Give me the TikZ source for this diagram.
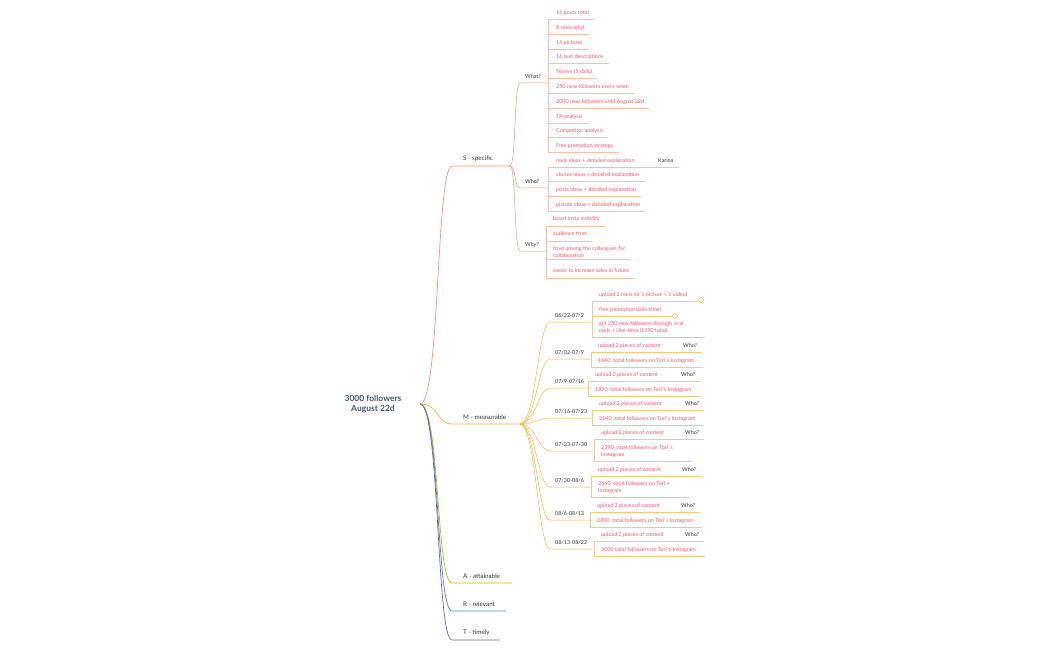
\documentclass[tikz,border=0pt]{standalone}
\usepackage{fontspec}
\setmainfont{Lato}
\begin{document}
\begin{tikzpicture}[x=1pt,y=-1pt,
  lf/.style={anchor=west,inner sep=1pt,text=txt,font=\fontsize{5.4}{6.6}\selectfont,align=left},
  dk/.style={anchor=west,inner sep=1pt,text=black!80,font=\fontsize{5.4}{6.6}\selectfont},
  sl/.style={color=sc!60,line width=0.5pt},
  ml/.style={color=mc!70,line width=0.5pt},
  num/.style={circle,draw=mc,inner sep=0.6pt,font=\fontsize{3.5}{4}\selectfont,text=mc}]
\definecolor{txt}{HTML}{F0506E}
\definecolor{sc}{HTML}{F4956A}
\definecolor{mc}{HTML}{F5B140}
\definecolor{ac}{HTML}{C8B400}
\definecolor{rc}{HTML}{3C8DC8}
\definecolor{tc}{HTML}{6E62AA}
\definecolor{rt}{HTML}{3E5670}
\useasboundingbox (0,0) rectangle (1050,650);
% root
\node[font=\bfseries\fontsize{8.5}{10}\selectfont,text=rt,align=center] (root) at (373,404) {3000 followers\\August 22d};
\coordinate (r) at (420,404);
% main branches
\foreach \n/\y/\t/\c/\e in {S/159/S - specific/sc/510, M/417/M - measurable/mc/520, A/576/A - attainable/ac/512, R/604/R - relevant/rc/506, T/633/T - timely/tc/500}{
  \node[dk,font=\fontsize{6.3}{7.5}\selectfont] (\n) at (462,\y) {\t};
  \coordinate (\n s) at (452,{\y+7});
  \coordinate (\n e) at (\e,{\y+7});
  \draw[\c,line width=0.7pt] (r) .. controls (440,404) and (436,{\y+7}) .. (\n s) -- (\n e);
}
% S subbranches
\foreach \n/\y/\t in {wh/77/What?, wo/182/Who?, wy/245/Why?}{
  \node[dk] (\n) at (524,\y) {\t};
  \coordinate (\n s) at (520,{\y+6});
  \coordinate (\n e) at (548,{\y+6});
  \draw[sl,color=sc] (Se) .. controls (516,166) and (514,{\y+6}) .. (\n s) -- (\n e);
}
% What leaves
\foreach \y/\t [count=\i] in {13/16 posts total,28/8 reels total,43/16 pictures,57/16 text descriptions,72/Stories (5 daily),87/250 new followers every week,102/2000 new followers until August 22d,117/TA analysis,131/Competitor analysis,146/Free promotion strategy}{
  \node[lf] (a\i) at (555,\y) {\t};
  \coordinate (ua\i) at (548,{\y+6});
  \draw[sl] (ua\i) -- ([xshift=4pt]ua\i -| a\i.east);
}
\draw[sl] (ua1) -- (ua10);
% Who leaves
\foreach \y/\t [count=\i] in {161/reels ideas + detailed explanation,175/stories ideas + detailed explanation,190/posts ideas + detailed explanation,205/picture ideas + detailed explanation}{
  \node[lf] (b\i) at (555,\y) {\t};
  \coordinate (ub\i) at (548,{\y+6});
  \draw[sl] (ub\i) -- ([xshift=4pt]ub\i -| b\i.east);
}
\node[dk] (kar) at (657,161) {Karina};
\draw[sl] (b1.east |- ub1) -- ([xshift=4pt]ub1 -| kar.east);
\draw[sl] (ub1) -- (ub4);
% Why leaves
\foreach \y/\t [count=\i] in {219/boost insta visibility,234/audience trust,252/trust among the colleagues for\\collaboration,271/easier to increase sales in future}{
  \node[lf] (c\i) at (552,\y) {\t};
  \coordinate (uc\i) at (546,{\y+7});
  \draw[sl] (uc\i) -- ([xshift=4pt]uc\i -| c\i.east);
}
\draw[sl] (uc1) -- (uc4);
% M dates
\foreach \y/\t [count=\i] in {316/{06/22-07/2},353/{07/02-07/9},382/{07/9-07/16},412/{07/16-07/23},445/{07/23-07/30},481/{07/30-08/6},514/{08/6-08/13},543/{08/13-08/22}}{
  \node[dk] (d\i) at (554,\y) {\t};
  \coordinate (ds\i) at (550,{\y+6});
  \coordinate (de\i) at (592,{\y+6});
  \draw[mc,line width=0.5pt] (Me) .. controls (536,424) and (538,{\y+6}) .. (ds\i) -- (de\i);
}
% group 1
\node[lf] (g1a) at (598,295) {upload 2 reels (or 1 picture + 1 video)};
\node[lf] (g1b) at (598,310) {free promotion (Like-time)};
\node[lf] (g1c) at (598,327.5) {get 250 new followers through viral\\reels + Like-time (1390 total)};
\coordinate (h1) at (592,301);
\coordinate (h2) at (592,316);
\coordinate (h3) at (592,337);
\node[num] (n1) at (701,300) {1};
\node[num] (n2) at (675,316) {2};
\draw[ml] (h1) -- (n1.west |- h1);
\draw[ml] (h2) -- (n2.west |- h2);
\draw[ml] (h3) -- ([xshift=20pt]h3 -| g1c.east);
\draw[ml] (h1) -- (h3);
% groups 2-8
\foreach \i/\x/\ya/\yb/\wx/\t in {2/597/346/361/682/1640\ \ total followers on Tori`\,s Instagram,3/594/375/390/680/1890\ \ total followers on Tori`\,s Instagram,4/598/404/419/684/2140\ \ total followers on Tori`\,s Instagram,7/596/506/521/680/2890\ \ total followers on Tori`\,s Instagram,8/600/535/550/684/3000 total followers on Tori`\,s Instagram}{
  \node[lf] (u\i) at (\x,\ya) {upload 2 pieces of content};
  \node[dk] (w\i) at (\wx,\ya) {Who?};
  \node[lf] (f\i) at (\x,\yb) {\t};
  \coordinate (p\i) at ({\x-6},{\ya+6});
  \coordinate (q\i) at ({\x-6},{\yb+6});
  \draw[ml] (p\i) -- ([xshift=4pt]p\i -| w\i.east);
  \draw[ml] (q\i) -- ([xshift=8pt]q\i -| f\i.east);
  \draw[ml] (p\i) -- (q\i);
}
\foreach \i/\x/\ya/\yb/\wx/\t in {5/600/433/451.5/684/2390\ \ total followers on Tori`\,s\\Instagram,6/597/470/487.5/681/2640\ \ total followers on Tori`\,s\\Instagram}{
  \node[lf] (u\i) at (\x,\ya) {upload 2 pieces of content};
  \node[dk] (w\i) at (\wx,\ya) {Who?};
  \node[lf] (f\i) at (\x,\yb) {\t};
  \coordinate (p\i) at ({\x-6},{\ya+6});
  \coordinate (q\i) at ({\x-6},{\yb+10});
  \draw[ml] (p\i) -- ([xshift=4pt]p\i -| w\i.east);
  \draw[ml] (q\i) -- ([xshift=-8pt]q\i -| w\i.east);
  \draw[ml] (p\i) -- (q\i);
}
\end{tikzpicture}
\end{document}
